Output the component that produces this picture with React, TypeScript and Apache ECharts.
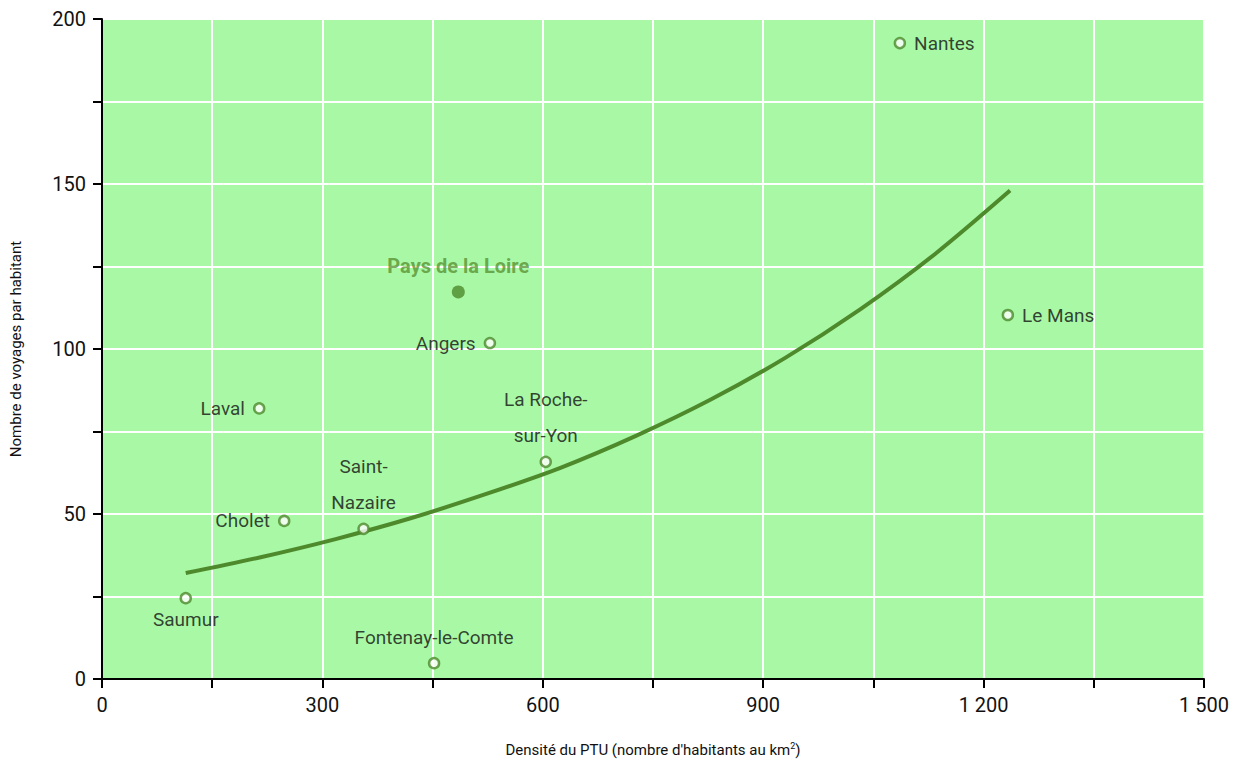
import React, { useEffect, useRef } from "react";
import * as echarts from "echarts";

const cities = ["Nantes", "Le Mans", "Angers", "Laval", "La Roche-\nsur-Yon", "Saint-\nNazaire", "Cholet", "Saumur", "Fontenay-le-Comte"];
const density = [1086, 1233, 528, 214, 604, 356, 248, 114, 452];
const trips = [192.7, 110.3, 101.8, 82, 65.8, 45.5, 47.9, 24.5, 4.8];
const labelPos = ["right", "right", "left", "left", "top", "top", "left", "bottom", "top"];

const regionName = "Pays de la Loire";
const regionDensity = 485;
const regionTrips = 117.3;

const trendX = [114, 216, 318, 420, 522, 624, 726, 828, 930, 1032, 1134, 1236];
const trendY = [32.1, 36.9, 42.4, 48.7, 56.0, 64.0, 73.6, 84.6, 97.3, 112.0, 128.8, 148];

const FONT = "Roboto, 'Liberation Sans', sans-serif";
const GREEN = "#4e8a2c";

export default function App() {
  const ref = useRef<HTMLDivElement>(null);
  useEffect(() => {
    const chart = echarts.init(ref.current!, null, { renderer: "svg" });
    const fmt = (v: number) => {
      const s = String(v);
      return s.length > 3 ? s.slice(0, s.length - 3) + " " + s.slice(-3) : s;
    };
    chart.setOption({
      animation: false,
      textStyle: { fontFamily: FONT },
      grid: { left: 97, top: 19, right: 40, bottom: 83, show: true, backgroundColor: "#a8f8a6", borderWidth: 0 },
      xAxis: {
        type: "value",
        min: 0,
        max: 1500,
        interval: 150,
        name: "Densité du PTU (nombre d'habitants au km{sup|2})",
        nameLocation: "middle",
        nameGap: 62,
        nameTextStyle: { fontSize: 15, color: "#111", fontFamily: FONT, rich: { sup: { fontSize: 9, verticalAlign: "top", padding: [0, 0, 8, 0], fontFamily: FONT } } },
        axisLine: { show: true, onZero: false, lineStyle: { color: "#000", width: 2 } },
        axisTick: { show: true, length: 9, lineStyle: { color: "#000", width: 2 } },
        axisLabel: { fontSize: 20, color: "#111", margin: 16, formatter: (v: number) => (v % 300 === 0 ? fmt(v) : "") },
        splitLine: { show: true, lineStyle: { color: "#ffffff", width: 2 } },
      },
      yAxis: {
        type: "value",
        min: 0,
        max: 200,
        interval: 25,
        name: "Nombre de voyages par habitant",
        nameLocation: "middle",
        nameGap: 79,
        nameTextStyle: { fontSize: 15, color: "#111", fontFamily: FONT },
        axisLine: { show: true, onZero: false, lineStyle: { color: "#000", width: 2 } },
        axisTick: { show: true, length: 9, lineStyle: { color: "#000", width: 2 } },
        axisLabel: { fontSize: 20, color: "#111", margin: 16, formatter: (v: number) => (v % 50 === 0 ? String(v) : "") },
        splitLine: { show: true, lineStyle: { color: "#ffffff", width: 2 } },
      },
      series: [
        {
          type: "line",
          smooth: 0.3,
          showSymbol: false,
          symbol: "none",
          lineStyle: { color: GREEN, width: 4 },
          data: trendX.map((x, i) => [x, trendY[i]]),
          z: 2,
        },
        {
          type: "scatter",
          symbol: "circle",
          symbolSize: 10,
          itemStyle: { color: "#ffffff", borderColor: GREEN, borderWidth: 2.5 },
          z: 3,
          data: cities.map((c, i) => {
            const multi = c.includes("\n");
            const pos = labelPos[i];
            return {
              value: [density[i], trips[i]],
              name: c,
              label: {
                show: true,
                position: pos,
                distance: pos === "top" ? (multi ? 2 : 8) : pos === "bottom" ? 4 : 8,
                formatter: c,
                fontSize: 19,
                lineHeight: multi ? 36 : 22,
                color: "#111",
                fontFamily: FONT,
                align: pos === "top" || pos === "bottom" ? "center" : undefined,
              },
            };
          }),
        },
        {
          type: "scatter",
          symbol: "circle",
          symbolSize: 13,
          itemStyle: { color: GREEN },
          z: 3,
          data: [
            {
              value: [regionDensity, regionTrips],
              name: regionName,
              label: { show: true, position: "top", distance: 9, formatter: regionName, fontSize: 20, fontWeight: "bold", color: "#5a9232", fontFamily: FONT },
            },
          ],
        },
      ],
    });
    return () => chart.dispose();
  }, []);
  return <div ref={ref} style={{ position: "fixed", left: 0, top: 0, width: 1244, height: 762, background: "#fff" }} />;
}
